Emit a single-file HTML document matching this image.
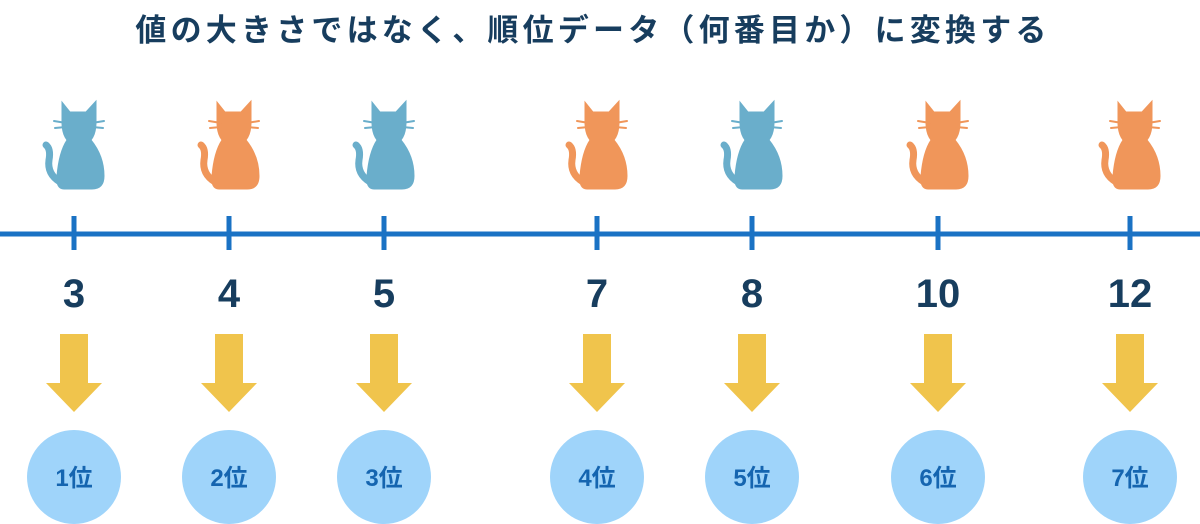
<!DOCTYPE html>
<html><head><meta charset="utf-8"><style>
html,body{margin:0;padding:0;background:#fff;width:1200px;height:524px;overflow:hidden}
svg{display:block}
</style></head><body>
<svg width="1200" height="524" viewBox="0 0 1200 524" xmlns="http://www.w3.org/2000/svg">
<defs>
<g id="cat">
<path d="M62 102 L70 112 L86 112 L96 101 L96 122 Q96 134 91 140 Q104 156 104 176 Q104 189 92 189 L64 189 Q56 189 57 176 Q59 152 67 140 Q62 134 62 122 Z"/>
<path d="M60 182 Q47 174 49 160 Q51 149 46 145" fill="none" stroke-width="7" stroke-linecap="round"/>
<g stroke-width="2" stroke-linecap="round">
<line x1="54" y1="121" x2="66" y2="123"/><line x1="55" y1="128" x2="66" y2="127"/>
<line x1="92" y1="123" x2="104" y2="121"/><line x1="92" y1="127" x2="103" y2="128"/>
</g>
</g>
<g id="col">
<rect x="71.5" y="216" width="5" height="34" fill="#1a72c4"/>
<rect x="60" y="334" width="28" height="50" fill="#f0c44c"/>
<polygon points="46,383 102,383 74,412" fill="#f0c44c"/>
<circle cx="74" cy="477" r="47" fill="#9fd4fa"/>
</g>
</defs>
<text x="593" y="41" text-anchor="middle" font-family="Liberation Sans, Noto Sans CJK JP, sans-serif" font-weight="bold" font-size="31" letter-spacing="4.2" fill="#173d5e">値の大きさではなく、順位データ（何番目か）に変換する</text>
<rect x="0" y="231.5" width="1200" height="5" fill="#1a72c4"/>
<g font-family="Liberation Sans, Noto Sans CJK JP, sans-serif" font-weight="bold" text-anchor="middle">
<g transform="translate(0,0)"><use href="#col"/><use href="#cat" fill="#6aaecb" stroke="#6aaecb"/><text x="74" y="307" font-size="40" fill="#173d5e">3</text><text x="74" y="486" font-size="24" fill="#1565b0">1位</text></g>
<g transform="translate(155,0)"><use href="#col"/><use href="#cat" fill="#f0965a" stroke="#f0965a"/><text x="74" y="307" font-size="40" fill="#173d5e">4</text><text x="74" y="486" font-size="24" fill="#1565b0">2位</text></g>
<g transform="translate(310,0)"><use href="#col"/><use href="#cat" fill="#6aaecb" stroke="#6aaecb"/><text x="74" y="307" font-size="40" fill="#173d5e">5</text><text x="74" y="486" font-size="24" fill="#1565b0">3位</text></g>
<g transform="translate(523,0)"><use href="#col"/><use href="#cat" fill="#f0965a" stroke="#f0965a"/><text x="74" y="307" font-size="40" fill="#173d5e">7</text><text x="74" y="486" font-size="24" fill="#1565b0">4位</text></g>
<g transform="translate(678,0)"><use href="#col"/><use href="#cat" fill="#6aaecb" stroke="#6aaecb"/><text x="74" y="307" font-size="40" fill="#173d5e">8</text><text x="74" y="486" font-size="24" fill="#1565b0">5位</text></g>
<g transform="translate(864,0)"><use href="#col"/><use href="#cat" fill="#f0965a" stroke="#f0965a"/><text x="74" y="307" font-size="40" fill="#173d5e">10</text><text x="74" y="486" font-size="24" fill="#1565b0">6位</text></g>
<g transform="translate(1056,0)"><use href="#col"/><use href="#cat" fill="#f0965a" stroke="#f0965a"/><text x="74" y="307" font-size="40" fill="#173d5e">12</text><text x="74" y="486" font-size="24" fill="#1565b0">7位</text></g>
</g>
</svg>
</body></html>
